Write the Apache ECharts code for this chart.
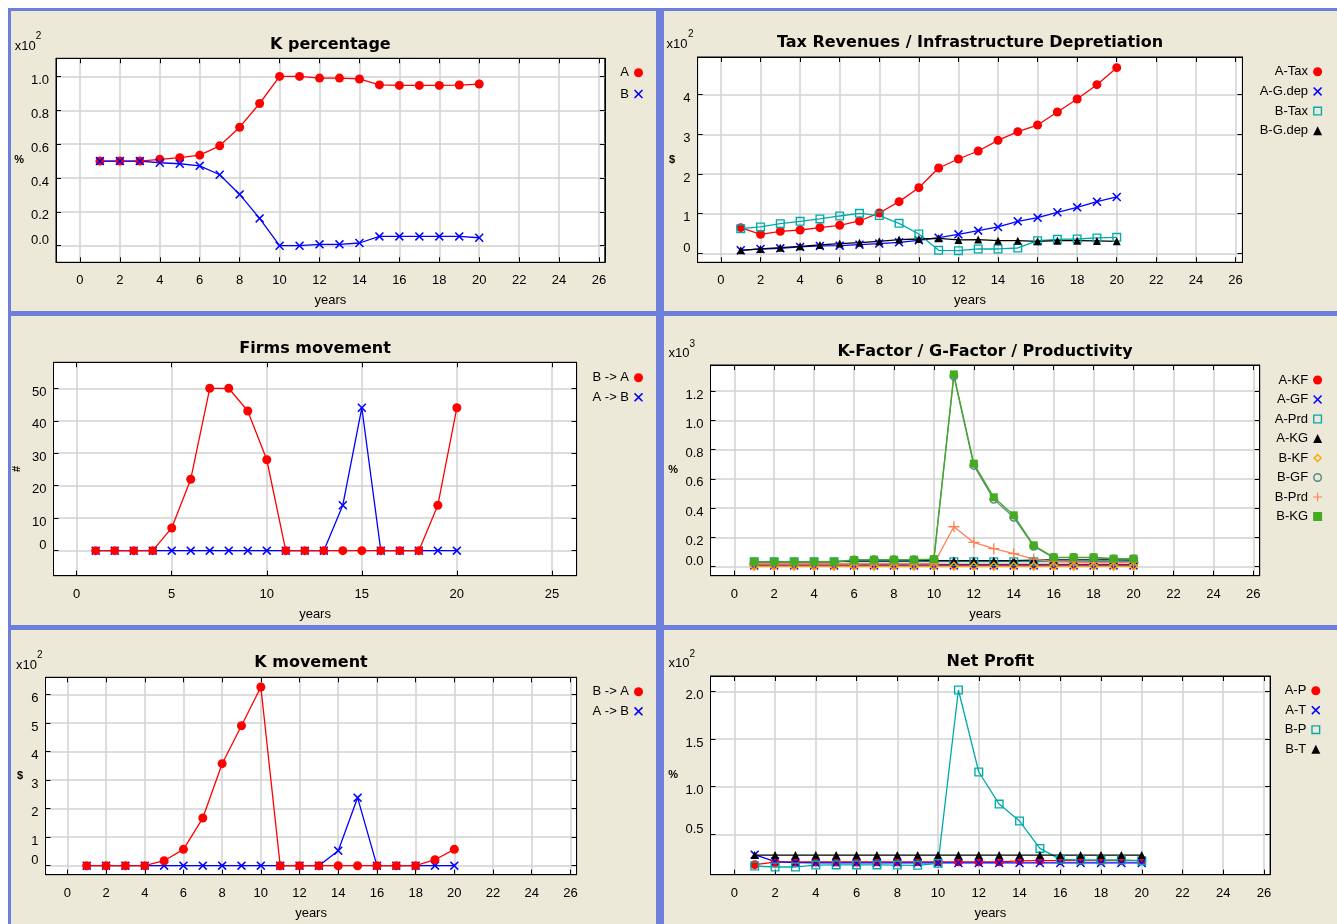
<!DOCTYPE html>
<html><head><meta charset="utf-8">
<script src="https://cdn.jsdelivr.net/npm/echarts@6/dist/echarts.min.js"></script>
<style>
html,body{margin:0;padding:0;background:#fff;width:1337px;height:924px;overflow:hidden;}
#frame{position:absolute;left:8px;top:8px;width:1329px;height:916px;background:#6e7fda;}
.panel{position:absolute;background:#ECE9D8;}
#chart{position:absolute;left:0;top:0;width:1337px;height:924px;}
</style></head><body>
<div id="frame"></div>
<div class="panel" style="left:11px;top:11px;width:645px;height:300px"></div>
<div class="panel" style="left:664px;top:11px;width:673px;height:300px"></div>
<div class="panel" style="left:11px;top:316px;width:645px;height:309px"></div>
<div class="panel" style="left:664px;top:316px;width:673px;height:309px"></div>
<div class="panel" style="left:11px;top:630px;width:645px;height:294px"></div>
<div class="panel" style="left:664px;top:630px;width:673px;height:294px"></div>
<div id="chart"></div>
<script>
// ---------- data ----------
const years = [1,2,3,4,5,6,7,8,9,10,11,12,13,14,15,16,17,18,19,20];
const xTicks2 = [0,2,4,6,8,10,12,14,16,18,20,22,24,26];
const xTicks5 = [0,5,10,15,20,25];
const kpTicks = [0,0.2,0.4,0.6,0.8,1.0];
const taxTicks = [0,1,2,3,4];
const firmsTicks = [0,10,20,30,40,50];
const factorTicks = [0,0.2,0.4,0.6,0.8,1.0,1.2];
const kmTicks = [0,1,2,3,4,5,6];
const profitTicks = [0.5,1.0,1.5,2.0];

// K percentage (x10^2)
const kpA = [0.50,0.50,0.50,0.51,0.52,0.535,0.59,0.70,0.84,1.00,1.00,0.99,0.99,0.985,0.95,0.947,0.947,0.947,0.949,0.955];
const kpB = [0.50,0.50,0.50,0.49,0.484,0.472,0.419,0.303,0.161,0.0,0.0,0.008,0.008,0.016,0.055,0.055,0.055,0.055,0.055,0.047];
// Tax revenues / infrastructure depreciation (x10^2)
const taxA = [0.647,0.479,0.555,0.588,0.647,0.706,0.815,1.017,1.303,1.655,2.151,2.378,2.580,2.849,3.067,3.235,3.563,3.891,4.252,4.681];
const gdepA = [0.076,0.109,0.126,0.160,0.185,0.193,0.218,0.244,0.277,0.328,0.395,0.479,0.571,0.664,0.807,0.899,1.034,1.160,1.303,1.420];
const taxB = [0.622,0.664,0.748,0.807,0.866,0.941,1.008,0.950,0.756,0.487,0.076,0.067,0.109,0.109,0.134,0.319,0.353,0.361,0.387,0.403];
const gdepB = [0.076,0.109,0.143,0.176,0.210,0.244,0.269,0.303,0.345,0.361,0.378,0.336,0.345,0.319,0.319,0.303,0.319,0.319,0.311,0.303];
// Firms movement
const firmsBA = [0,0,0,0,7,22,50,50,43,28,0,0,0,0,0,0,0,0,14,44];
const firmsAB = [0,0,0,0,0,0,0,0,0,0,0,0,0,14,44,0,0,0,0,0];
// K-Factor / G-Factor / Productivity (x10^3)
const aKF = [0.013,0.013,0.013,0.013,0.013,0.013,0.016,0.016,0.016,0.016,0.016,0.016,0.016,0.016,0.016,0.016,0.016,0.016,0.016,0.016];
const aGF = [0.008,0.008,0.008,0.008,0.008,0.008,0.009,0.009,0.009,0.009,0.009,0.009,0.009,0.009,0.009,0.009,0.009,0.009,0.009,0.009];
const aPrd = [0.034,0.034,0.034,0.034,0.034,0.034,0.034,0.034,0.034,0.034,0.034,0.034,0.034,0.034,0.034,0.034,0.034,0.034,0.034,0.034];
const aKG = [0.034,0.034,0.034,0.034,0.034,0.040,0.040,0.040,0.041,0.041,0.041,0.041,0.041,0.042,0.045,0.047,0.047,0.047,0.046,0.045];
const bKF = [0.003,0.003,0.003,0.003,0.003,0.003,0.003,0.003,0.003,0.003,0.003,0.003,0.003,0.003,0.003,0.003,0.003,0.003,0.003,0.003];
const bGF = [0.030,0.030,0.030,0.030,0.030,0.046,0.047,0.047,0.047,0.050,1.302,0.692,0.460,0.337,0.140,0.062,0.062,0.062,0.053,0.053];
const bPrd = [0.020,0.020,0.020,0.020,0.020,0.020,0.020,0.020,0.020,0.020,0.273,0.166,0.123,0.089,0.052,0.035,0.032,0.030,0.030,0.030];
const bKG = [0.034,0.034,0.034,0.034,0.034,0.046,0.048,0.048,0.048,0.052,1.314,0.704,0.474,0.351,0.146,0.064,0.064,0.064,0.055,0.055];
// K movement (x10^2)
const kmBA = [0,0,0,0,0.175,0.573,1.672,3.579,4.912,6.269,0,0,0,0,0,0,0,0,0.21,0.573];
const kmAB = [0,0,0,0,0,0,0,0,0,0,0,0,0,0.526,2.386,0,0,0,0,0];
// Net profit (x10^2)
const pA = [0.182,0.208,0.210,0.210,0.210,0.210,0.212,0.212,0.212,0.212,0.212,0.212,0.212,0.222,0.224,0.224,0.224,0.224,0.224,0.224];
const tA = [0.287,0.215,0.203,0.200,0.200,0.200,0.200,0.200,0.200,0.200,0.200,0.200,0.200,0.200,0.200,0.200,0.200,0.200,0.200,0.200];
const pB = [0.168,0.158,0.158,0.178,0.180,0.180,0.180,0.178,0.175,0.196,2.014,1.154,0.818,0.640,0.353,0.238,0.231,0.231,0.231,0.224];
const tB = [0.283,0.283,0.283,0.283,0.283,0.283,0.283,0.283,0.283,0.283,0.283,0.283,0.283,0.283,0.283,0.283,0.283,0.283,0.283,0.283];

// ---------- styles ----------
const FONT = "'Liberation Sans', Arial, sans-serif";
const TFONT = "'DejaVu Sans', Verdana, sans-serif";
const C = {red:'#ff0000', blue:'#0000ff', cyan:'#00aaaa', black:'#000000', orange:'#ffa500', cadet:'#53868b', coral:'#ff7f50', green:'#45ab1f'};
const SYM = {
  dot: 'circle',
  cross: 'path://M0,1.2L1.2,0L5,3.8L8.8,0L10,1.2L6.2,5L10,8.8L8.8,10L5,6.2L1.2,10L0,8.8L3.8,5Z',
  square: 'path://M0,0H10V10H0Z M1.5,1.5V8.5H8.5V1.5Z',
  tri: 'triangle',
  diamond: 'path://M5,0L10,5L5,10L0,5Z M5,2.2L2.2,5L5,7.8L7.8,5Z',
  circle: 'path://M5,0A5,5 0 1 1 5,10A5,5 0 1 1 5,0Z M5,1.6A3.4,3.4 0 1 0 5,8.4A3.4,3.4 0 1 0 5,1.6Z',
  plus: 'path://M4.4,0H5.6V4.4H10V5.6H5.6V10H4.4V5.6H0V4.4H4.4Z',
  rect: 'rect'
};
const SIZE = {dot:9, cross:9, square:9, tri:8, diamond:10, circle:9, plus:11, rect:8};

const panels = [
  {title:'K percentage', tx:330.4, ty:45, grid:[56,58.3,548.8,204], x:[-1.2,26.29], y:[-0.098,1.107],
   xt:xTicks2, yt:kpTicks, dec:1, yName:'%', yGap:32, yRot:0, exp:['2',14.7,47,35.8,37],
   leg:[638.5,72.7,8.3],
   series:[['A',kpA,C.red,'dot'],['B',kpB,C.blue,'cross']]},
  {title:'Tax Revenues / Infrastructure Depretiation', tx:970, ty:43.3, grid:[697.6,57,544.8,205.3], x:[-1.18,26.35], y:[-0.227,4.95],
   xt:xTicks2, yt:taxTicks, dec:0, yName:'$', yGap:22.6, yRot:0, exp:['2',666.5,45,688,35],
   leg:[1317.6,71.7,6.7],
   series:[['A-Tax',taxA,C.red,'dot'],['A-G.dep',gdepA,C.blue,'cross'],['B-Tax',taxB,C.cyan,'square'],['B-G.dep',gdepB,C.black,'tri']]},
  {title:'Firms movement', tx:315, ty:349, grid:[53.5,362.3,523.1,213.4], x:[-1.22,26.3], y:[-7.7,58],
   xt:xTicks5, yt:firmsTicks, dec:0, yName:'#', yGap:31, yRot:90, exp:null,
   leg:[638.5,377.7,6.6],
   series:[['A -> B',firmsAB,C.blue,'cross'],['B -> A',firmsBA,C.red,'dot']], legOrder:['B -> A','A -> B']},
  {title:'K-Factor / G-Factor / Productivity', tx:985.1, ty:351.7, grid:[710.5,365,549.2,210.7], x:[-1.19,26.32], y:[-0.0615,1.378],
   xt:xTicks2, yt:factorTicks, dec:1, yName:'%', yGap:32.4, yRot:0, exp:['3',668.6,354,689.4,345],
   leg:[1317.6,380,6.5],
   series:[['A-KF',aKF,C.red,'dot'],['A-GF',aGF,C.blue,'cross'],['A-Prd',aPrd,C.cyan,'square'],['A-KG',aKG,C.black,'tri'],
           ['B-KF',bKF,C.orange,'diamond'],['B-GF',bGF,C.cadet,'circle'],['B-Prd',bPrd,C.coral,'plus'],['B-KG',bKG,C.green,'rect']]},
  {title:'K movement', tx:311, ty:663.3, grid:[45.5,677.3,531.1,197.4], x:[-1.13,26.32], y:[-0.316,6.61],
   xt:xTicks2, yt:kmTicks, dec:0, yName:'$', yGap:22.4, yRot:0, exp:['2',16,666,37,655.5],
   leg:[638.5,691.7,6.6],
   series:[['A -> B ',kmAB,C.blue,'cross'],['B -> A ',kmBA,C.red,'dot']], legOrder:['B -> A ','A -> B ']},
  {title:'Net Profit', tx:990.3, ty:662.3, grid:[710.5,676,559.6,198.7], x:[-1.17,26.3], y:[0.077,2.161],
   xt:xTicks2, yt:profitTicks, dec:1, yName:'%', yGap:32.4, yRot:0, exp:['2',668.6,663.5,689.4,655],
   leg:[1315.8,690.7,6.5],
   series:[['A-P',pA,C.red,'dot'],['A-T',tA,C.blue,'cross'],['B-P',pB,C.cyan,'square'],['B-T',tB,C.black,'tri']]}
];

const W = 1337;
const option = {animation:false, backgroundColor:'transparent', title:[], grid:[], xAxis:[], yAxis:[], legend:[], series:[], graphic:[]};
const lineCol = '#000';
const tickText = {fontFamily:FONT, fontSize:13, color:'#000'};
panels.forEach((p, gi) => {
  option.grid.push({left:p.grid[0], top:p.grid[1], width:p.grid[2], height:p.grid[3], show:true,
    backgroundColor:'#ffffff', borderColor:'#000', borderWidth:1, containLabel:false, outerBoundsMode:'none'});
  option.title.push({text:p.title, left:p.tx, top:p.ty, textAlign:'center', textVerticalAlign:'middle', padding:0,
    textStyle:{fontFamily:TFONT, fontWeight:'bold', fontSize:16, color:'#000'}});
  const xb = {type:'value', gridIndex:gi, min:p.x[0], max:p.x[1]};
  option.xAxis.push(Object.assign({}, xb, {position:'bottom', name:'years', nameLocation:'middle', nameGap:32,
    nameTextStyle:{fontFamily:FONT, fontSize:13, color:'#000'},
    axisLine:{show:true, onZero:false, lineStyle:{color:lineCol, width:1}},
    axisTick:{show:true, inside:true, length:5, customValues:p.xt, lineStyle:{color:lineCol, width:1}},
    axisLabel:{show:true, customValues:p.xt, margin:12, fontFamily:FONT, fontSize:13, color:'#000', formatter:v=>String(v)},
    splitLine:{show:true, lineStyle:{color:'#d2d2d2', width:1.5}}}));
  option.xAxis.push(Object.assign({}, xb, {position:'top',
    axisLine:{show:true, onZero:false, lineStyle:{color:lineCol, width:1}},
    axisTick:{show:true, inside:true, length:5, customValues:p.xt, lineStyle:{color:lineCol, width:1}},
    axisLabel:{show:false}, splitLine:{show:false}}));
  const yb = {type:'value', gridIndex:gi, min:p.y[0], max:p.y[1]};
  const lowest = p.yt[0];
  option.yAxis.push(Object.assign({}, yb, {position:'left', name:p.yName, nameLocation:'middle', nameGap:p.yGap, nameRotate:p.yRot,
    nameTextStyle:{fontFamily:FONT, fontSize:11, fontWeight:'bold', color:'#000'},
    axisLine:{show:true, onZero:false, lineStyle:{color:lineCol, width:1}},
    axisTick:{show:true, inside:true, length:5, customValues:p.yt, lineStyle:{color:lineCol, width:1}},
    axisLabel:{show:true, customValues:p.yt, margin:7, fontFamily:FONT, fontSize:13, color:'#000', verticalAlign:'middle',
      formatter:v => {const t = Number(v).toFixed(p.dec); return Math.abs(v - lowest) < 1e-9 ? '{lo|' + t + '}' : '{hi|' + t + '}';},
      rich:{hi:Object.assign({lineHeight:21, verticalAlign:'bottom'}, tickText), lo:Object.assign({lineHeight:23, verticalAlign:'top'}, tickText)}},
    splitLine:{show:true, lineStyle:{color:'#d2d2d2', width:1.5}}}));
  option.yAxis.push(Object.assign({}, yb, {position:'right',
    axisLine:{show:true, onZero:false, lineStyle:{color:lineCol, width:1}},
    axisTick:{show:true, inside:true, length:5, customValues:p.yt, lineStyle:{color:lineCol, width:1}},
    axisLabel:{show:false}, splitLine:{show:false}}));
  p.series.forEach(s => {
    option.series.push({type:'line', name:s[0], xAxisIndex:2*gi, yAxisIndex:2*gi,
      data: years.map((yr, i) => [yr, s[1][i]]),
      symbol:SYM[s[3]], symbolSize:SIZE[s[3]], showSymbol:true, showAllSymbol:true,
      lineStyle:{color:s[2], width:1.3}, itemStyle:{color:s[2], borderWidth:0},
      emphasis:{disabled:true}, silent:true});
  });
  const order = p.legOrder || p.series.map(s => s[0]);
  option.legend.push({orient:'vertical', align:'right', right: W - p.leg[0] - 4.5, top: p.leg[1] - 6.5,
    itemWidth:9, itemHeight:9, itemGap:p.leg[2], padding:0, selectedMode:false,
    textStyle:{fontFamily:FONT, fontSize:13, color:'#000'}, itemStyle:{borderWidth:0},
    formatter: n => n.trim(),
    data: order.map(n => { const s = p.series.find(q => q[0] === n); return {name:n, icon:SYM[s[3]], itemStyle:{color:s[2], borderWidth:0}}; })});
  if (p.exp) {
    option.graphic.push({type:'text', left:p.exp[1], top:p.exp[2]-7, style:{text:'x10', font:'13px ' + FONT, fill:'#000'}});
    option.graphic.push({type:'text', left:p.exp[3], top:p.exp[4]-5.5, style:{text:p.exp[0], font:'10px ' + FONT, fill:'#000'}});
  }
});
const chart = echarts.init(document.getElementById('chart'), null, {renderer:'canvas'});
chart.setOption(option);
</script>
</body></html>
